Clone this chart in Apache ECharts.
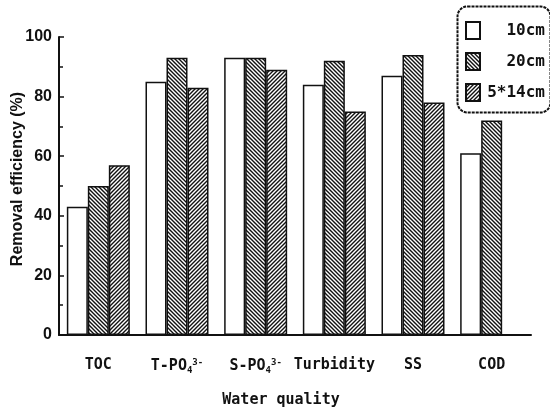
<!DOCTYPE html>
<html>
<head>
<meta charset="utf-8">
<script src="https://cdn.jsdelivr.net/npm/echarts@6/dist/echarts.min.js"></script>
<style>
  html, body { margin: 0; padding: 0; background: #fff; }
  #main { width: 550px; height: 412px; }
</style>
</head>
<body>
<div id="main"></div>
<script>
// data
var categories = ['TOC', 'T-PO4', 'S-PO4', 'Turbidity', 'SS', 'COD'];
var seriesNames = ['10cm', '20cm', '5*14cm'];
var val10 = [43, 85, 93, 84, 87, 61];
var val20 = [50, 93, 93, 92, 94, 72];
var val514 = [57, 83, 89, 75, 78, null];
var yTicks = [0, 20, 40, 60, 80, 100];

// hatch pattern tiles
function hatch(dir) {
  var c = document.createElement('canvas');
  c.width = 4; c.height = 4;
  var ctx = c.getContext('2d');
  ctx.fillStyle = '#fff';
  ctx.fillRect(0, 0, 4, 4);
  ctx.strokeStyle = '#111';
  ctx.lineWidth = 1.4;
  ctx.beginPath();
  if (dir === 'back') { // "\"
    ctx.moveTo(-1, -1); ctx.lineTo(5, 5);
    ctx.moveTo(3, -1); ctx.lineTo(5, 1);
    ctx.moveTo(-1, 3); ctx.lineTo(1, 5);
  } else { // "/"
    ctx.moveTo(-1, 5); ctx.lineTo(5, -1);
    ctx.moveTo(-1, 1); ctx.lineTo(1, -1);
    ctx.moveTo(3, 5); ctx.lineTo(5, 3);
  }
  ctx.stroke();
  return { image: c, repeat: 'repeat' };
}

var monoFont = '"DejaVu Sans Mono", monospace';
var ink = '#111';

function catLabel(v) {
  if (v === 'T-PO4') return '{n|T-PO}{s|4}{p|3-}';
  if (v === 'S-PO4') return '{n|S-PO}{s|4}{p|3-}';
  return '{n|' + v + '}';
}

var barStyle = function (fill) {
  return { color: fill, borderColor: ink, borderWidth: 1.5 };
};

var chart = echarts.init(document.getElementById('main'));
chart.setOption({
  backgroundColor: '#fff',
  animation: false,
  grid: { left: 59, top: 37, width: 472, bottom: 77, outerBoundsMode: 'none', containLabel: false },
  legend: {
    orient: 'vertical',
    left: 465,
    top: 21,
    padding: 0,
    itemWidth: 14,
    itemHeight: 17,
    itemGap: 12,
    icon: 'rect',
    data: seriesNames,
    formatter: function (n) { return '{a|' + n + '}'; },
    textStyle: {
      rich: {
        a: { width: 60, align: 'right', fontFamily: monoFont, fontWeight: 'bold', fontSize: 16, color: ink, lineHeight: 17 }
      }
    }
  },
  xAxis: {
    type: 'category',
    data: categories,
    name: 'Water quality',
    nameLocation: 'middle',
    nameGap: 58,
    nameMoveOverlap: false,
    nameTextStyle: { fontFamily: monoFont, fontWeight: 'bold', fontSize: 15, color: ink, padding: [0, 28, 0, 0] },
    axisLine: { lineStyle: { color: ink, width: 2 } },
    axisTick: { show: false },
    axisLabel: {
      margin: 23,
      interval: 0,
      formatter: catLabel,
      rich: {
        n: { fontFamily: monoFont, fontWeight: 'bold', fontSize: 15, color: ink },
        s: { fontFamily: monoFont, fontWeight: 'bold', fontSize: 9, color: ink, verticalAlign: 'bottom', padding: [8, 0, 0, 0] },
        p: { fontFamily: monoFont, fontWeight: 'bold', fontSize: 9, color: ink, verticalAlign: 'top', padding: [0, 0, 8, 0] }
      }
    }
  },
  yAxis: {
    type: 'value',
    min: yTicks[0],
    max: yTicks[yTicks.length - 1],
    interval: 20,
    name: 'Removal efficiency (%)',
    nameLocation: 'middle',
    nameGap: 33,
    nameMoveOverlap: false,
    nameTextStyle: { fontFamily: '"Liberation Sans", sans-serif', fontWeight: 'bold', fontSize: 16, color: ink, padding: [0, 0, 0, 14] },
    axisLine: { show: true, lineStyle: { color: ink, width: 2 } },
    axisTick: { show: true, inside: true, length: 5, lineStyle: { color: ink, width: 1.5 } },
    minorTick: { show: true, splitNumber: 2, length: 4, lineStyle: { color: ink, width: 1.5 } },
    splitLine: { show: false },
    axisLabel: {
      margin: 7,
      fontFamily: '"Liberation Sans Narrow", "Liberation Sans", sans-serif',
      fontWeight: 'bold',
      fontSize: 16,
      color: ink
    }
  },
  graphic: [{
    type: 'rect',
    left: 455,
    top: 4,
    shape: { width: 93, height: 106, r: 10 },
    style: { fill: 'none', stroke: ink, lineWidth: 2, lineDash: [3, 1] },
    z: 10
  }],
  series: [
    { name: seriesNames[0], type: 'bar', data: val10, barWidth: 21, barGap: '0%', itemStyle: barStyle('#fff') },
    { name: seriesNames[1], type: 'bar', data: val20, barWidth: 21, barGap: '0%', itemStyle: barStyle(hatch('back')) },
    { name: seriesNames[2], type: 'bar', data: val514, barWidth: 21, barGap: '0%', itemStyle: barStyle(hatch('fwd')) }
  ]
});
</script>
</body>
</html>
